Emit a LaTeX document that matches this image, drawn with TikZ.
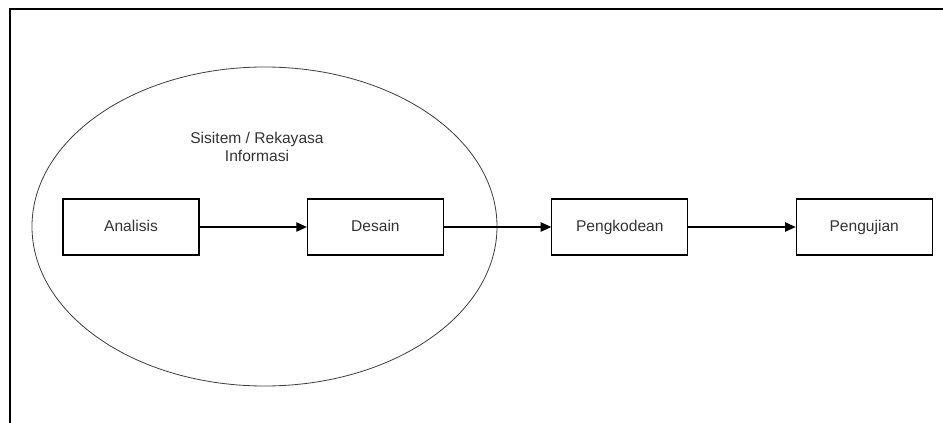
\documentclass[tikz,border=0pt]{standalone}
\usepackage{fontspec}
\setmainfont{Liberation Sans}
\usepackage{xcolor}
\definecolor{txtgrey}{HTML}{333333}
\usepackage{tikz}
\usetikzlibrary{arrows.meta,positioning,shapes.geometric}

\begin{document}
\begin{tikzpicture}[
  x=0.03cm,y=-0.03cm,
  node distance=3.22cm,
  stage/.style={rectangle,draw,line width=0.9pt,minimum width=4.08cm,minimum height=1.68cm,
    text height=9.5pt,text depth=2.5pt,text=txtgrey,font=\fontsize{13.3}{15}\selectfont},
  arr/.style={-{Triangle[length=9pt,width=8pt]},line width=0.9pt},
]
\useasboundingbox (0,0) rectangle (943,423);
% frame
\draw[line width=1.3pt] (10,440) -- (10,9) -- (960,9);

% system / information engineering
\node[ellipse,draw,line width=0.7pt,black!75,minimum width=13.95cm,minimum height=9.57cm] (sisinfo) at (264.5,226.5) {};
\node[align=center,text=txtgrey,font=\fontsize{13.3}{15.5}\selectfont] (sislabel) at (257,147) {Sisitem / Rekayasa\\Informasi};

\node[stage] (analisis) at (131,227) {Analisis};
\node[stage,right=of analisis] (desain) {Desain};
\node[stage,right=of desain] (kode) {Pengkodean};
\node[stage,right=of kode] (uji) {Pengujian};

\draw[arr] (analisis) -- (desain);
\draw[arr] (desain) -- (kode);
\draw[arr] (kode) -- (uji);
\end{tikzpicture}
\end{document}
